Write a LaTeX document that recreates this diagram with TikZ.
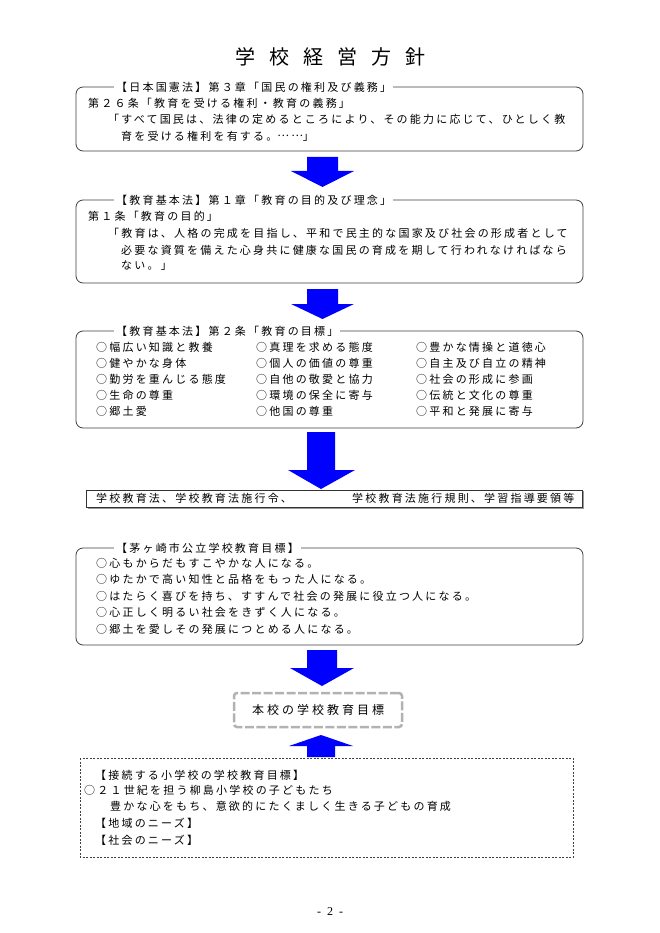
\documentclass[tikz,border=0pt]{standalone}
\usepackage{fontspec}
\setmainfont{Liberation Serif}
\newfontfamily\jp{Noto Sans CJK JP}[LetterSpace=20]
\newfontfamily\jpmid{Noto Sans CJK JP}[LetterSpace=25]
\newfontfamily\jptitle{Noto Sans CJK JP}[LetterSpace=70]
\begin{document}
\begin{tikzpicture}[x=1pt,y=-1pt,
  txt/.style={anchor=west,inner sep=0pt,font=\jp\fontsize{11}{13}\selectfont},
  boxtitle/.style={txt,fill=white,inner xsep=2pt,inner ysep=1pt},
  frame/.style={draw=black!75,line width=0.8pt,rounded corners=7pt},
  barrow/.style={fill=blue,draw=none}]
\useasboundingbox[fill=white] (0,0) rectangle (660,933);

% title
\node[anchor=west,inner sep=0pt,font=\jptitle\fontsize{20}{24}\selectfont] (title) at (235,57) {学校経営方針};

% box 1
\draw[frame] (76,87) rectangle (583,151);
\node[boxtitle] (t1) at (114,87) {【日本国憲法】第３章「国民の権利及び義務」};
\node[txt] (l11) at (88,103) {第２６条「教育を受ける権利・教育の義務」};
\node[txt] (l12) at (108,119.5) {「すべて国民は、法律の定めるところにより、その能力に応じて、ひとしく教};
\node[txt] (l13) at (121,136) {育を受ける権利を有する。\raisebox{3.2pt}{……}」};

% arrow 1
\fill[barrow] (307,157) -- (338,157) -- (338,171) -- (354,171) -- (322.5,187) -- (291,171) -- (307,171) -- cycle;

% box 2
\draw[frame] (76,200) rectangle (583,283);
\node[boxtitle] (t2) at (114,200) {【教育基本法】第１章「教育の目的及び理念」};
\node[txt] (l21) at (88,216) {第１条「教育の目的」};
\node[txt] (l22) at (108,233) {「教育は、人格の完成を目指し、平和で民主的な国家及び社会の形成者として};
\node[txt] (l23) at (121,250) {必要な資質を備えた心身共に健康な国民の育成を期して行われなければなら};
\node[txt] (l24) at (121,266) {ない。」};

% arrow 2
\fill[barrow] (307,289) -- (338,289) -- (338,304) -- (354,304) -- (322.5,319) -- (291,304) -- (307,304) -- cycle;

% box 3
\draw[frame] (76,331) rectangle (583,428);
\node[boxtitle] (t3) at (114,331) {【教育基本法】第２条「教育の目標」};
\node[txt] (a1) at (96,347.5) {○幅広い知識と教養};
\node[txt] (a2) at (96,363.5) {○健やかな身体};
\node[txt] (a3) at (96,379.5) {○勤労を重んじる態度};
\node[txt] (a4) at (96,395.5) {○生命の尊重};
\node[txt] (a5) at (96,411.5) {○郷土愛};
\node[txt] (b1) at (256,347.5) {○真理を求める態度};
\node[txt] (b2) at (256,363.5) {○個人の価値の尊重};
\node[txt] (b3) at (256,379.5) {○自他の敬愛と協力};
\node[txt] (b4) at (256,395.5) {○環境の保全に寄与};
\node[txt] (b5) at (256,411.5) {○他国の尊重};
\node[txt] (c1) at (416,347.5) {○豊かな情操と道徳心};
\node[txt] (c2) at (416,363.5) {○自主及び自立の精神};
\node[txt] (c3) at (416,379.5) {○社会の形成に参画};
\node[txt] (c4) at (416,395.5) {○伝統と文化の尊重};
\node[txt] (c5) at (416,411.5) {○平和と発展に寄与};

% arrow 3
\fill[barrow] (307,432) -- (335,432) -- (335,470) -- (355,470) -- (321,489) -- (288,470) -- (307,470) -- cycle;

% box 4
\draw[black!40,line width=1pt] (87.5,508) -- (583.5,508) -- (583.5,491);
\draw[black!80,line width=0.6pt] (86,490) rectangle (582,507);
\node[txt] (l41) at (96,498.5) {学校教育法、学校教育法施行令、};
\node[txt] (l42) at (352,498.5) {学校教育法施行規則、学習指導要領等};

% box 5
\draw[frame] (76,548) rectangle (583,645);
\node[boxtitle] (t5) at (114,548) {【茅ヶ崎市公立学校教育目標】};
\node[txt] (l51) at (96,563) {○心もからだもすこやかな人になる。};
\node[txt] (l52) at (96,579.5) {○ゆたかで高い知性と品格をもった人になる。};
\node[txt] (l53) at (96,596) {○はたらく喜びを持ち、すすんで社会の発展に役立つ人になる。};
\node[txt] (l54) at (96,612.5) {○心正しく明るい社会をきずく人になる。};
\node[txt] (l55) at (96,629) {○郷土を愛しその発展につとめる人になる。};

% arrow 4
\fill[barrow] (307,650) -- (337,650) -- (337,668) -- (354,668) -- (322,686) -- (290,668) -- (307,668) -- cycle;

% central box
\node[draw=black!30,line width=2.5pt,dash pattern=on 9pt off 2.5pt,rounded corners=3pt,
      minimum width=168pt,minimum height=34pt,inner sep=0pt,
      font=\jpmid\fontsize{12}{14}\selectfont] (goal) at (318,710) {本校の学校教育目標};

% arrow 5 (up)
\fill[barrow] (307,757) -- (335,757) -- (335,746) -- (353,746) -- (321,735) -- (289,746) -- (307,746) -- cycle;

% bottom box
\draw[black!75,line width=0.6pt,dash pattern=on 2pt off 1.5pt] (80,758) rectangle (573,857);
\node[txt] (l61) at (95,775) {【接続する小学校の学校教育目標】};
\node[txt] (l62) at (84,790.5) {○２１世紀を担う柳島小学校の子どもたち};
\node[txt] (l63) at (110,806.5) {豊かな心をもち、意欲的にたくましく生きる子どもの育成};
\node[txt] (l64) at (95,823) {【地域のニーズ】};
\node[txt] (l65) at (95,840) {【社会のニーズ】};

% page number
\node[inner sep=0pt,font=\fontsize{12}{14}\selectfont] (page) at (330,912) {-\ \ 2\ \ -};
\end{tikzpicture}
\end{document}
